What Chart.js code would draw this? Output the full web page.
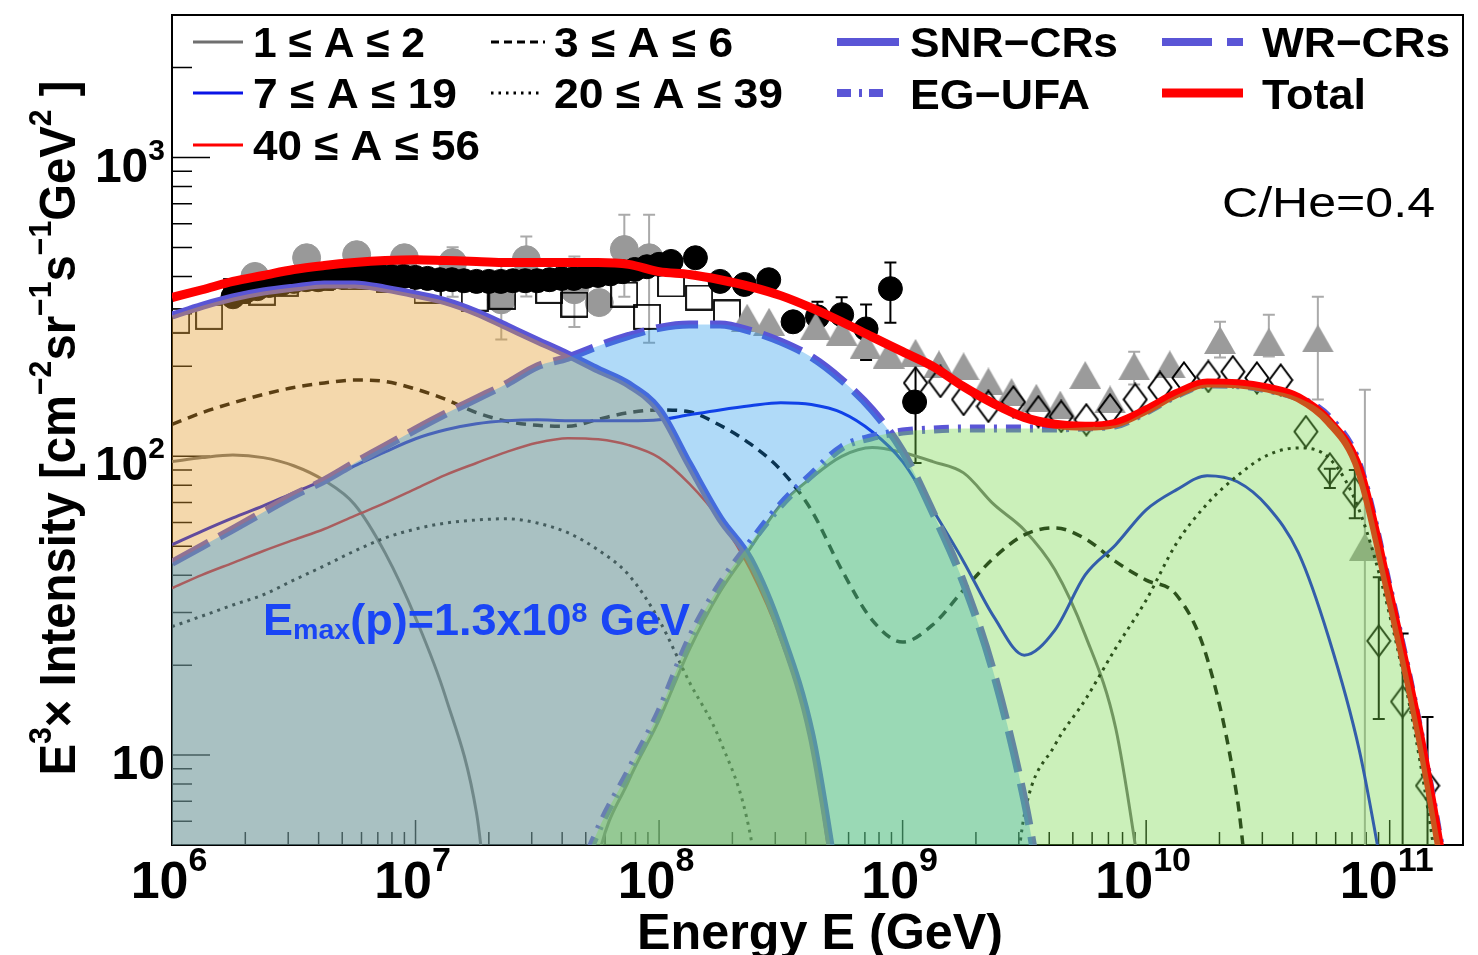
<!DOCTYPE html>
<html>
<head>
<meta charset="utf-8">
<title>E3 x Intensity vs Energy</title>
<script src="https://cdn.jsdelivr.net/npm/chart.js@4.4.1/dist/chart.umd.min.js"></script>
<style>
  html, body { margin: 0; padding: 0; background: #ffffff; }
  #box { position: relative; width: 1478px; height: 955px; }
</style>
</head>
<body>
<div id="box"><canvas id="chart" width="1478" height="955"></canvas></div>
<script>
var energies = [
  1e6, 1.33e6, 1.78e6, 2.37e6, 3.16e6, 4.22e6, 5.62e6, 7.5e6,
  1e7, 1.33e7, 1.78e7, 2.37e7, 3.16e7, 4.22e7, 5.62e7, 7.5e7,
  1e8, 1.33e8, 1.78e8, 2.37e8, 3.16e8, 4.22e8, 5.62e8, 7.5e8,
  1e9, 1.33e9, 1.78e9, 2.37e9, 3.16e9, 4.22e9, 5.62e9, 7.5e9,
  1e10, 1.33e10, 1.78e10, 2.37e10, 3.16e10, 4.22e10, 5.62e10, 7.5e10,
  1e11, 1.33e11, 1.78e11
];
// values under the axis floor (5) just let a curve run off the bottom
var totalFlux = [
  340, 361, 385, 403, 422, 435, 445, 452,
  455, 452, 449, 445, 445, 445, 445, 439,
  415, 406, 390, 370, 345, 314, 282, 251,
  224, 200, 171, 150, 135, 128, 126, 129,
  143, 162, 176, 175, 169, 157, 131, 90,
  34, 11.6, 3
];
var snrFlux = [
  296, 319, 340, 356, 367, 376, 376, 364,
  348, 330, 303, 272, 244, 219, 195, 174,
  143, 94, 62, 45, 25.8, 11.7, 3, 1,
  1, 1, 1, 1, 1, 1, 1, 1,
  1, 1, 1, 1, 1, 1, 1, 1,
  1, 1, 1
];
var wrFlux = [
  44, 50, 57, 65, 74, 83, 95, 108,
  123, 139, 156, 175, 200, 214, 234, 253,
  269, 276, 276, 263, 242, 215, 180, 143,
  104, 65, 37.7, 18.7, 7.1, 2, 1, 1,
  1, 1, 1, 1, 1, 1, 1, 1,
  1, 1, 1
];
var egFlux = [
  1, 1, 1, 1, 1, 1, 1, 1,
  1, 1, 1, 1, 1, 3, 5.6, 8.8,
  13.9, 24.3, 37.1, 51.3, 68.8, 86.7, 107, 116,
  121, 123, 124, 124, 124, 124, 125, 127,
  141, 160, 174, 173, 167, 157, 135, 93,
  35.5, 12, 3.2
];
var hFlux = [
  96, 99, 101, 99, 93, 83, 69, 47.5,
  28.8, 15.6, 6.4, 1, 1, 1, 4.5, 8.2,
  13.1, 22.5, 35.2, 49.3, 68.8, 84.7, 100, 107,
  103, 96, 88, 69, 56.7, 41.7, 25.2, 12.3,
  3, 1, 1, 1, 1, 1, 1, 1,
  1, 1, 1
];
var heFlux = [
  128, 140, 151, 161, 170, 176, 180, 178,
  168, 155, 140, 131, 127, 126, 133, 140,
  143, 141, 127, 110, 90, 66, 41.7, 28.3,
  23.9, 27.3, 35.7, 45.7, 54.6, 57.6, 53, 44.4,
  38.5, 34.4, 21.1, 7.1, 1, 1, 1, 1,
  1, 1, 1
];
var cnoFlux = [
  50.6, 56.2, 62.2, 68.2, 75.5, 83.4, 92.9, 103.5,
  114.5, 122.7, 128.5, 131.5, 132.5, 131.5, 131.5, 131.5,
  132.5, 137.7, 143, 147.6, 151, 149, 140, 120.8,
  96, 66.2, 44.4, 29, 21.6, 26.2, 40.1, 50.6,
  66.2, 77.2, 86.1, 82.2, 67.8, 47.5, 24.7, 10.4,
  3, 1, 1
];
var siFlux = [
  26.9, 29.2, 31.8, 34.4, 38.5, 43, 48.2, 53.3,
  57.1, 59.8, 61.2, 61.8, 59.8, 55.5, 48.6, 40.1,
  28.3, 17.6, 11.2, 5.4, 1, 1, 1, 1,
  1, 1, 1, 1, 6.3, 10.8, 15.3, 22.8,
  33, 51, 69.3, 86.1, 101, 106.7, 98.9, 66,
  29.4, 9.6, 2
];
var feFlux = [
  36.2, 40.1, 44, 48.2, 52.5, 57.1, 63.2, 69.8,
  77.8, 86.7, 95, 103.5, 111, 115, 114, 109,
  99, 81, 61.2, 41.7, 24.3, 11.1, 2.5, 1,
  1, 1, 1, 1, 1, 1, 1, 1,
  1, 1, 1, 1, 1, 1, 1, 1,
  1, 1, 1
];

// measurements
var grayE  = [2.19e6, 3.57e6, 5.73e6, 9.0e6, 1.42e7, 2.25e7, 2.85e7, 4.49e7, 5.68e7, 7.2e7, 9.1e7];
var grayI  = [400, 462, 473, 462, 445, 334, 455, 361, 327, 492, 462];
var grayLo = [null, null, null, null, 342, 246, 343, 271, null, 342, 240];
var grayHi = [null, null, null, null, 501, 445, 544, 466, null, 644, 644];

var blackE = [1.78e6, 2.0e6, 2.24e6, 2.51e6, 2.82e6, 3.16e6, 3.55e6, 3.98e6, 4.47e6, 5.01e6,
  5.62e6, 6.31e6, 7.08e6, 7.94e6, 8.91e6, 1e7, 1.12e7, 1.26e7, 1.41e7, 1.58e7,
  1.78e7, 2.0e7, 2.24e7, 2.51e7, 2.82e7, 3.16e7, 3.55e7, 3.98e7, 4.47e7, 5.01e7,
  5.62e7, 6.31e7, 7.08e7, 7.94e7, 8.91e7, 1e8, 1.12e8, 1.41e8, 1.78e8, 2.24e8,
  2.82e8, 3.55e8, 4.47e8, 5.62e8, 7.08e8, 8.91e8, 1.12e9];
var blackI = [342, 356, 364, 373, 378, 385, 390, 390, 394, 397,
  400, 403, 403, 400, 400, 397, 394, 390, 390, 387,
  385, 385, 385, 387, 387, 387, 390, 394, 394, 400,
  403, 408, 415, 422, 431, 439, 449, 462, 385, 376,
  390, 282, 293, 298, 267, 364, 152];
var blackErrIdx = [42, 43, 44, 45];
var blackLo = [255, 250, 210, 280];
var blackHi = [329, 341, 322, 445];

var squareE = [1.04e6, 1.42e6, 1.85e6, 2.34e6, 2.9e6, 4.04e6, 5.62e6, 7.82e6, 1.12e7, 1.75e7,
  2.27e7, 3.54e7, 4.49e7, 7.19e7, 8.93e7, 1.12e8, 1.46e8, 1.9e8];
var squareI = [284, 293, 358, 353, 378, 394, 397, 390, 358, 337,
  342, 358, 322, 348, 293, 376, 340, 303];

var triE  = [2.3e8, 2.83e8, 4.4e8, 5.62e8, 7.05e8, 8.77e8, 1.13e9, 1.41e9, 1.78e9, 2.25e9,
  2.8e9, 3.54e9, 4.44e9, 5.62e9, 7.11e9, 8.93e9, 1.25e10, 2.01e10, 3.19e10, 5.07e10, 7.91e10];
var triI  = [291, 282, 272, 261, 236, 219, 222, 203, 200, 178,
  164, 157, 149, 187, 155, 200, 203, 245, 242, 248, 49.8];
var triErrIdx = [15, 17, 18, 19, 20];
var triLo = [174, 214, 216, 155, 4];
var triHi = [224, 282, 298, 342, 167];

var diaE  = [1.13e9, 1.43e9, 1.78e9, 2.25e9, 2.85e9, 3.61e9, 4.48e9, 5.68e9, 7.11e9, 9.02e9,
  1.14e10, 1.43e10, 1.8e10, 2.27e10, 2.85e10, 3.57e10, 4.53e10, 5.68e10, 7.19e10, 9.02e10,
  1.13e11, 1.43e11];
var diaI  = [176, 178, 155, 147, 152, 141, 136, 132.5, 143, 155,
  170, 183, 185, 192, 183, 180, 121, 90.8, 75.5, 24.1,
  15.1, 7.9];
var diaErrIdx = [0, 17, 18, 19, 20, 21];
var diaLo = [95, 78.3, 62, 13.2, 3, 3];
var diaHi = [222, 90.8, 90, 39.4, 25.5, 13.4];

// axis labels
var xTickValues = [1e6, 1e7, 1e8, 1e9, 1e10, 1e11];
var xTickExps = ['6', '7', '8', '9', '10', '11'];
var yTickValues = [10, 100, 1000];
var yTickExps = ['', '2', '3'];
var legendLabels = ['1 \u2264 A \u2264 2', '3 \u2264 A \u2264 6', '7 \u2264 A \u2264 19',
  '20 \u2264 A \u2264 39', '40 \u2264 A \u2264 56', 'SNR\u2212CRs', 'WR\u2212CRs', 'EG\u2212UFA', 'Total'];

var SANS = '"Liberation Sans", Arial, sans-serif';
var NARROW = '"Liberation Sans Narrow", "Liberation Sans", sans-serif';
var srcBlue = '#5a55d6';

function pts(xs, ys) {
  return xs.map(function (x, i) { return { x: x, y: ys[i] }; });
}

function makeMarker(w, h, draw) {
  var c = document.createElement('canvas');
  c.width = w;
  c.height = h;
  draw(c.getContext('2d'), w, h);
  return c;
}
var diamondMark = makeMarker(26, 34, function (g, w, h) {
  g.strokeStyle = '#000';
  g.lineWidth = 2;
  g.beginPath();
  g.moveTo(w / 2, 1.5); g.lineTo(w - 1.5, h / 2); g.lineTo(w / 2, h - 1.5); g.lineTo(1.5, h / 2);
  g.closePath();
  g.stroke();
});
var triangleMark = makeMarker(32, 28, function (g, w, h) {
  g.fillStyle = '#9b9b9b';
  g.beginPath();
  g.moveTo(w / 2, 0); g.lineTo(w, h); g.lineTo(0, h);
  g.closePath();
  g.fill();
});
var squareMark = makeMarker(28, 26, function (g, w, h) {
  g.strokeStyle = '#000';
  g.lineWidth = 1.8;
  g.strokeRect(1, 1, w - 2, h - 2);
});

function curve(vals, color, width, dash, order) {
  return {
    data: pts(energies, vals), borderColor: color, borderWidth: width, borderDash: dash || [],
    pointRadius: 0, fill: false, cubicInterpolationMode: 'monotone', order: order
  };
}
function band(vals, color, order) {
  return {
    data: pts(energies, vals), borderColor: 'rgba(0,0,0,0)', borderWidth: 1, backgroundColor: color,
    pointRadius: 0, fill: 'start', cubicInterpolationMode: 'monotone', order: order
  };
}
function marks(xs, ys, style, color, radius, order) {
  return {
    data: pts(xs, ys), showLine: false, pointStyle: style, pointRadius: radius,
    pointBackgroundColor: color, pointBorderColor: color, pointBorderWidth: 1, order: order
  };
}

function drawRich(ctx, parts, x, y, align, targetW) {
  var w = 0;
  parts.forEach(function (p) { ctx.font = p.font; w += ctx.measureText(p.t).width; });
  var s = targetW ? targetW / w : 1;
  ctx.save();
  ctx.translate(x, y);
  ctx.scale(s, 1);
  ctx.textAlign = 'left';
  ctx.textBaseline = 'alphabetic';
  var cx = align === 'center' ? -w / 2 : (align === 'right' ? -w : 0);
  parts.forEach(function (p) {
    ctx.font = p.font;
    ctx.fillText(p.t, cx, p.dy || 0);
    cx += ctx.measureText(p.t).width;
  });
  ctx.restore();
}

function sample(ctx, x1, x2, y, color, width, dash) {
  ctx.save();
  ctx.strokeStyle = color;
  ctx.lineWidth = width;
  ctx.setLineDash(dash || []);
  ctx.beginPath();
  ctx.moveTo(x1, y);
  ctx.lineTo(x2, y);
  ctx.stroke();
  ctx.restore();
}

function errorBars(ctx, xs, ys, E, idx, lo, hi, color, cap) {
  ctx.strokeStyle = color;
  ctx.lineWidth = 2;
  ctx.beginPath();
  idx.forEach(function (i, j) {
    var px = xs.getPixelForValue(E[i]);
    var top = ys.getPixelForValue(hi[j]);
    var bot = ys.getPixelForValue(lo[j]);
    ctx.moveTo(px, top); ctx.lineTo(px, bot);
    ctx.moveTo(px - cap, top); ctx.lineTo(px + cap, top);
    ctx.moveTo(px - cap, bot); ctx.lineTo(px + cap, bot);
  });
  ctx.stroke();
}

var frameTicks = {
  id: 'frameTicks',
  beforeDatasetsDraw: function (chart) {
    var ctx = chart.ctx, a = chart.chartArea, xs = chart.scales.x, ys = chart.scales.y;
    ctx.save();
    ctx.strokeStyle = '#000';
    ctx.lineWidth = 1.5;
    ctx.beginPath();
    for (var d = 1e6; d <= 1e11; d *= 10) {
      for (var m = 1; m <= 9; m++) {
        var v = d * m;
        if (v > xs.max) break;
        var px = xs.getPixelForValue(v);
        ctx.moveTo(px, a.bottom);
        ctx.lineTo(px, a.bottom - (m === 1 ? 25 : 13));
      }
    }
    [1, 10, 100, 1000].forEach(function (dd) {
      for (var m = 1; m <= 9; m++) {
        var v = dd * m;
        if (v < ys.min || v > ys.max) continue;
        var py = ys.getPixelForValue(v);
        ctx.moveTo(a.left, py);
        ctx.lineTo(a.left + (m === 1 ? 38 : 20), py);
      }
    });
    ctx.stroke();
    ctx.lineWidth = 2;
    ctx.strokeRect(a.left, a.top, a.right - a.left, a.bottom - a.top);

    ctx.beginPath();
    ctx.rect(a.left, a.top, a.right - a.left, a.bottom - a.top);
    ctx.clip();
    var gIdx = [];
    var gLo = [], gHi = [];
    grayLo.forEach(function (v, i) { if (v !== null) { gIdx.push(i); gLo.push(v); gHi.push(grayHi[i]); } });
    errorBars(ctx, xs, ys, grayE, gIdx, gLo, gHi, '#aaaaaa', 6);
    errorBars(ctx, xs, ys, triE, triErrIdx, triLo, triHi, '#aaaaaa', 6);
    errorBars(ctx, xs, ys, blackE, blackErrIdx, blackLo, blackHi, '#000000', 6);
    errorBars(ctx, xs, ys, diaE, diaErrIdx, diaLo, diaHi, '#000000', 6);
    ctx.restore();
  },
  afterDraw: function (chart) {
    var ctx = chart.ctx, xs = chart.scales.x, ys = chart.scales.y;
    ctx.save();
    ctx.fillStyle = '#000';

    // x tick labels
    xTickValues.forEach(function (v, i) {
      var px = xs.getPixelForValue(v);
      drawRich(ctx, [
        { t: '10', font: 'bold 52px ' + NARROW },
        { t: xTickExps[i], font: 'bold 34px ' + NARROW, dy: -27 }
      ], px - 3, 898, 'center');
    });
    // y tick labels
    yTickValues.forEach(function (v, i) {
      var py = ys.getPixelForValue(v);
      var parts = [{ t: '10', font: 'bold 48px ' + SANS }];
      if (yTickExps[i]) parts.push({ t: yTickExps[i], font: 'bold 30px ' + SANS, dy: -22 });
      drawRich(ctx, parts, 165, py + 24, 'right');
    });

    // axis titles
    drawRich(ctx, [{ t: 'Energy E (GeV)', font: 'bold 50px ' + SANS }], 820, 949, 'center', 366);
    ctx.save();
    ctx.translate(75, 428);
    ctx.rotate(-Math.PI / 2);
    var B = 'bold 50px ' + NARROW, S = 'bold 32px ' + NARROW;
    drawRich(ctx, [
      { t: 'E', font: B }, { t: '3', font: S, dy: -24 }, { t: '\u00d7 Intensity [cm', font: B },
      { t: '\u22122', font: S, dy: -24 }, { t: 'sr', font: B }, { t: '\u22121', font: S, dy: -24 },
      { t: 's', font: B }, { t: '\u22121', font: S, dy: -24 }, { t: 'GeV', font: B },
      { t: '2', font: S, dy: -24 }, { t: ' ]', font: B }
    ], 0, 0, 'center', 695);
    ctx.restore();

    // legend
    sample(ctx, 193, 243, 42, '#6f6f6f', 3);
    sample(ctx, 491, 545, 42, '#000', 3, [8, 5]);
    sample(ctx, 193, 243, 93, '#0a14e6', 3);
    sample(ctx, 491, 541, 93, '#000', 3, [2.5, 5]);
    sample(ctx, 193, 243, 145, '#ff0000', 3);
    sample(ctx, 837, 899, 42, srcBlue, 8);
    sample(ctx, 1162, 1243, 42, srcBlue, 8, [50, 15]);
    sample(ctx, 837, 891, 93, srcBlue, 8, [14, 8, 3, 7]);
    sample(ctx, 1162, 1243, 93, '#ff0000', 9);
    var L = 'bold 43px ' + SANS;
    drawRich(ctx, [{ t: legendLabels[0], font: L }], 253, 57, 'left', 172);
    drawRich(ctx, [{ t: legendLabels[1], font: L }], 554, 57, 'left', 179);
    drawRich(ctx, [{ t: legendLabels[2], font: L }], 253, 108, 'left', 204);
    drawRich(ctx, [{ t: legendLabels[3], font: L }], 554, 108, 'left', 229);
    drawRich(ctx, [{ t: legendLabels[4], font: L }], 253, 160, 'left', 227);
    drawRich(ctx, [{ t: legendLabels[5], font: L }], 910, 57, 'left', 208);
    drawRich(ctx, [{ t: legendLabels[6], font: L }], 1262, 57, 'left', 188);
    drawRich(ctx, [{ t: legendLabels[7], font: L }], 910, 109, 'left', 180);
    drawRich(ctx, [{ t: legendLabels[8], font: L }], 1262, 109, 'left', 104);

    // annotations
    drawRich(ctx, [{ t: 'C/He=0.4', font: '43px ' + SANS }], 1222, 217, 'left', 213);
    ctx.fillStyle = '#1a45f5';
    drawRich(ctx, [
      { t: 'E', font: 'bold 44px ' + SANS }, { t: 'max', font: 'bold 28px ' + SANS, dy: 4 },
      { t: '(p)=1.3x10', font: 'bold 44px ' + SANS }, { t: '8', font: 'bold 28px ' + SANS, dy: -13 },
      { t: ' GeV', font: 'bold 44px ' + SANS }
    ], 263, 635, 'left', 427);
    ctx.restore();
  }
};

var datasets = [
  marks(grayE, grayI, 'circle', '#999999', 14, 100),
  marks(squareE, squareI, squareMark, '#000', 10, 95),
  marks(blackE, blackI, 'circle', '#000000', 12, 90),
  marks(triE, triI, triangleMark, '#9b9b9b', 10, 85),
  marks(diaE, diaI, diamondMark, '#000', 10, 80),
  curve(hFlux, '#6f6f6f', 3, [], 70),
  curve(heFlux, '#000000', 3.5, [10, 7], 69),
  curve(cnoFlux, '#0a14e6', 3, [], 68),
  curve(siFlux, '#000000', 3, [3, 5], 67),
  curve(feFlux, '#ff0000', 2.5, [], 66),
  curve(snrFlux, srcBlue, 8, [], 60),
  curve(wrFlux, srcBlue, 8, [42, 12], 59),
  curve(egFlux, srcBlue, 8, [15, 9, 3, 9], 58),
  curve(totalFlux, '#ff0000', 9, [], 50),
  band(snrFlux, 'rgba(227,158,48,0.4)', 12),
  band(wrFlux, 'rgba(30,150,235,0.35)', 11),
  band(egFlux, 'rgba(118,216,74,0.38)', 10)
];

var ctx = document.getElementById('chart').getContext('2d');
var myChart = new Chart(ctx, {
  type: 'line',
  data: { datasets: datasets },
  options: {
    responsive: false,
    animation: false,
    events: [],
    layout: { padding: { left: 172, right: 13, top: 15, bottom: 110 } },
    plugins: {
      legend: { display: false },
      tooltip: { enabled: false },
      title: { display: false }
    },
    scales: {
      x: { type: 'logarithmic', min: 1e6, max: 2e11, display: false },
      y: { type: 'logarithmic', min: 5, max: 3000, display: false }
    }
  },
  plugins: [frameTicks]
});
</script>
</body>
</html>
